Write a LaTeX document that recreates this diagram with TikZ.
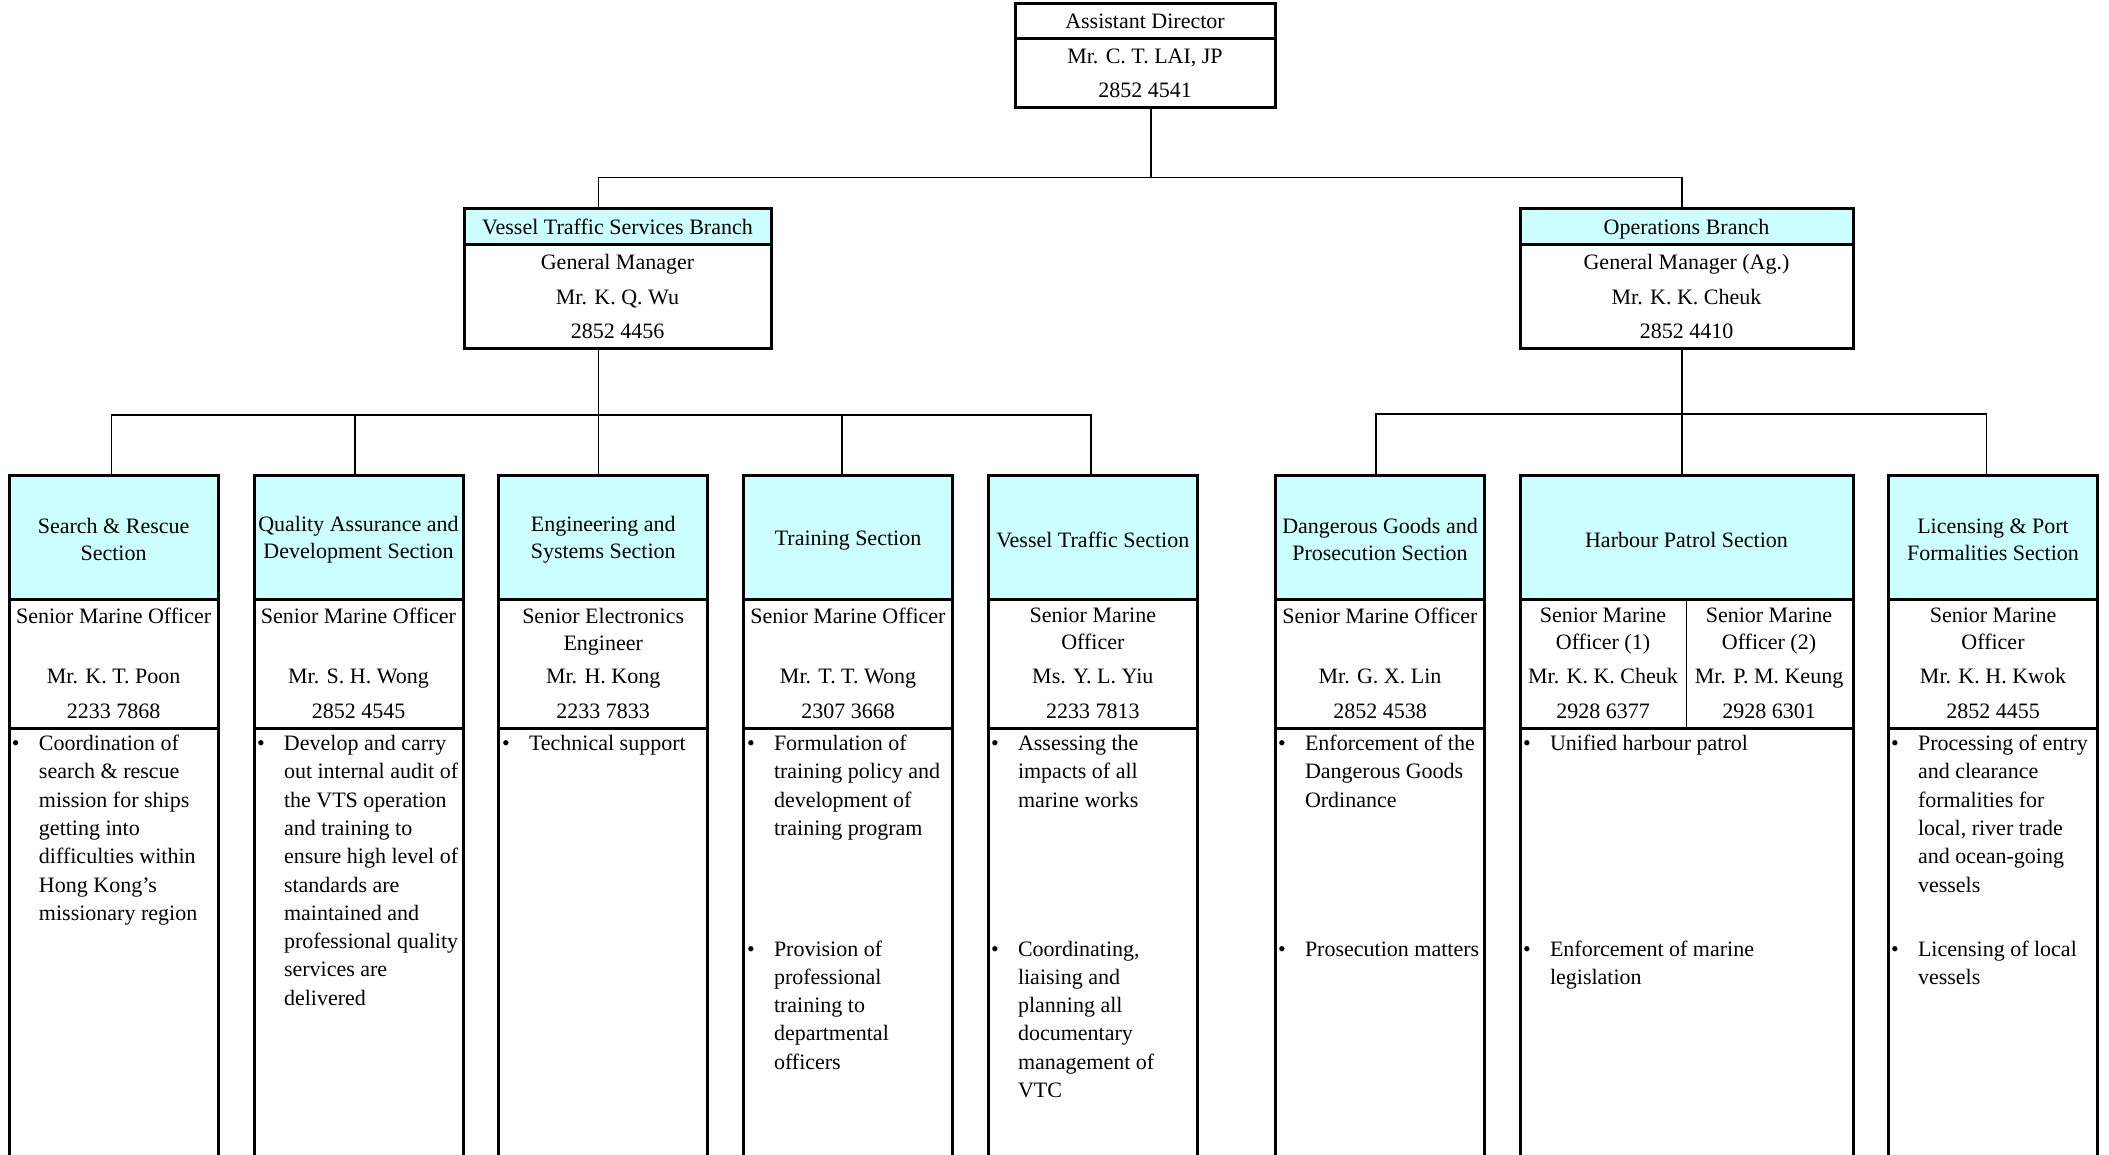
\documentclass[tikz,border=0pt]{standalone}
\usepackage{fontspec}
\setmainfont{Liberation Serif}
\usetikzlibrary{positioning}

\definecolor{hdrcyan}{HTML}{CCFFFF}
\newcommand{\dutyitem}[1]{\makebox[27pt][l]{\textbullet}\begin{tabular}[t]{@{}l@{}}#1\end{tabular}}
\newcommand{\hdtop}{\rule{0pt}{21pt}}

\begin{document}
\begin{tikzpicture}[
  x=1pt, y=-1pt,
  every node/.style={outer sep=0pt, font=\fontsize{22}{27}\selectfont},
  box/.style={rectangle, draw=black, line width=3pt, align=center, inner sep=1pt},
  hdr/.style={box, fill=hdrcyan},
  headbox/.style={hdr, minimum width=209pt, minimum height=124pt},
  infobox/.style={box, minimum width=209pt, minimum height=129pt},
  dutybox/.style={box, minimum width=209pt, minimum height=600pt},
  duty/.style={anchor=base west, inner sep=0pt, font=\fontsize{22}{28.3}\selectfont},
  link/.style={line width=1.3pt}
]

% Page
\fill[white] (0,0) rectangle (2109,1155);
\useasboundingbox (0,0) rectangle (2109,1155);
\clip (0,0) rectangle (2109,1155);

% Assistant Director
\node[box, minimum width=260pt, minimum height=35pt] (adirH) at (1145,21.5) {Assistant Director};
\node[box, minimum width=260pt, minimum height=69pt, below=0pt of adirH, font=\fontsize{22}{34}\selectfont] (adir) {Mr. C. T. LAI, JP\\2852 4541};

% Branches
\node[hdr, minimum width=307pt, minimum height=36pt] (vtsH) at (617.5,226.6) {Vessel Traffic Services Branch};
\node[box, minimum width=307pt, minimum height=104pt, below=0pt of vtsH, font=\fontsize{22}{34.5}\selectfont] (vts) {General Manager\\Mr. K. Q. Wu\\2852 4456};
\node[hdr, minimum width=333pt, minimum height=36pt, text depth=0pt] (opsH) at (1686.5,226.6) {Operations Branch};
\node[box, minimum width=333pt, minimum height=104pt, below=0pt of opsH, font=\fontsize{22}{34.5}\selectfont] (ops) {General Manager (Ag.)\\Mr. K. K. Cheuk\\2852 4410};

% Section headers
\node[headbox] (sar) at (113.6,537) {\hdtop Search \& Rescue\\Section};
\node[headbox] (qad) at (358.5,537) {\hdtop Quality Assurance and\\Development Section};
\node[headbox] (eng) at (603.2,537) {\hdtop Engineering and\\Systems Section};
\node[headbox] (trn) at (848,537) {\hdtop Training Section};
\node[headbox] (vtc) at (1092.8,537) {\hdtop Vessel Traffic Section};
\node[headbox] (dgp) at (1380,537) {\hdtop Dangerous Goods and\\Prosecution Section};
\node[headbox, minimum width=333pt] (hps) at (1686.5,537) {\hdtop Harbour Patrol Section};
\node[headbox] (lpf) at (1993,537) {\hdtop Licensing \& Port\\Formalities Section};

% Officers
\node[infobox, below=0pt of sar] (sarI) {Senior Marine Officer\\[33.4pt]Mr. K. T. Poon\\[8pt]2233 7868};
\node[infobox, below=0pt of qad] (qadI) {Senior Marine Officer\\[33.4pt]Mr. S. H. Wong\\[8pt]2852 4545};
\node[infobox, below=0pt of eng] (engI) {Senior Electronics\\Engineer\\[6.4pt]Mr. H. Kong\\[8pt]2233 7833};
\node[infobox, below=0pt of trn] (trnI) {Senior Marine Officer\\[33.4pt]Mr. T. T. Wong\\[8pt]2307 3668};
\node[infobox, below=0pt of vtc] (vtcI) {Senior Marine\\Officer\\[6.4pt]Ms. Y. L. Yiu\\[8pt]2233 7813};
\node[infobox, below=0pt of dgp] (dgpI) {Senior Marine Officer\\[33.4pt]Mr. G. X. Lin\\[8pt]2852 4538};
\node[infobox, minimum width=333pt, below=0pt of hps] (hpsI) {};
\node[align=center, inner sep=1pt] (hpsA) at (1603,663.5) {Senior Marine\\Officer (1)\\[6.4pt]Mr. K. K. Cheuk\\[8pt]2928 6377};
\node[align=center, inner sep=1pt] (hpsB) at (1769,663.5) {Senior Marine\\Officer (2)\\[6.4pt]Mr. P. M. Keung\\[8pt]2928 6301};
\draw[line width=1.8pt] (hpsI.north) -- (hpsI.south);
\node[infobox, below=0pt of lpf] (lpfI) {Senior Marine\\Officer\\[6.4pt]Mr. K. H. Kwok\\[8pt]2852 4455};

% Duty columns
\node[dutybox, below=0pt of sarI] (sarD) {};
\node[dutybox, below=0pt of qadI] (qadD) {};
\node[dutybox, below=0pt of engI] (engD) {};
\node[dutybox, below=0pt of trnI] (trnD) {};
\node[dutybox, below=0pt of vtcI] (vtcD) {};
\node[dutybox, below=0pt of dgpI] (dgpD) {};
\node[dutybox, minimum width=333pt, below=0pt of hpsI] (hpsD) {};
\node[dutybox, below=0pt of lpfI] (lpfD) {};

% Duties
\node[duty] (sar1) at (12,750.5) {\dutyitem{Coordination of\\search \& rescue\\mission for ships\\getting into\\difficulties within\\Hong Kong's\\missionary region}};
\node[duty] (qad1) at (257,750.5) {\dutyitem{Develop and carry\\out internal audit of\\the VTS operation\\and training to\\ensure high level of\\standards are\\maintained and\\professional quality\\services are\\delivered}};
\node[duty] (eng1) at (502,750.5) {\dutyitem{Technical support}};
\node[duty] (trn1) at (747,750.5) {\dutyitem{Formulation of\\training policy and\\development of\\training program}};
\node[duty] (trn2) at (747,956) {\dutyitem{Provision of\\professional\\training to\\departmental\\officers}};
\node[duty] (vtc1) at (991,750.5) {\dutyitem{Assessing the\\impacts of all\\marine works}};
\node[duty] (vtc2) at (991,956) {\dutyitem{Coordinating,\\liaising and\\planning all\\documentary\\management of\\VTC}};
\node[duty] (dgp1) at (1278,750.5) {\dutyitem{Enforcement of the\\Dangerous Goods\\Ordinance}};
\node[duty] (dgp2) at (1278,956) {\dutyitem{Prosecution matters}};
\node[duty] (hps1) at (1523,750.5) {\dutyitem{Unified harbour patrol}};
\node[duty] (hps2) at (1523,956) {\dutyitem{Enforcement of marine\\legislation}};
\node[duty] (lpf1) at (1891,750.5) {\dutyitem{Processing of entry\\and clearance\\formalities for\\local, river trade\\and ocean-going\\vessels}};
\node[duty] (lpf2) at (1891,956) {\dutyitem{Licensing of local\\vessels}};

% Top links
\coordinate (topbus) at (1151,177.5);
\coordinate (vtsbus) at (598.5,415);
\coordinate (opsbus) at (1682,414);
\draw[link] (adir.south -| topbus) -- (topbus);
\draw[link] (vtsH.north -| vtsbus) |- (topbus) -| (opsH.north -| opsbus);

% Branch links
\draw[link] (vts.south -| vtsbus) -- (vtsbus) -- (eng.north -| vtsbus);
\draw[link] ([xshift=-2pt]sar.north) |- (vtsbus) -| ([xshift=-1.8pt]vtc.north);
\draw[link] ([xshift=-3.5pt]qad.north) -- ([xshift=-3.5pt]qad.north |- vtsbus);
\draw[link] ([xshift=-6pt]trn.north) -- ([xshift=-6pt]trn.north |- vtsbus);

\draw[link] (ops.south -| opsbus) -- (opsbus) -- (hps.north -| opsbus);
\draw[link] ([xshift=-4pt]dgp.north) |- (opsbus) -| ([xshift=-6.4pt]lpf.north);

\end{tikzpicture}
\end{document}
